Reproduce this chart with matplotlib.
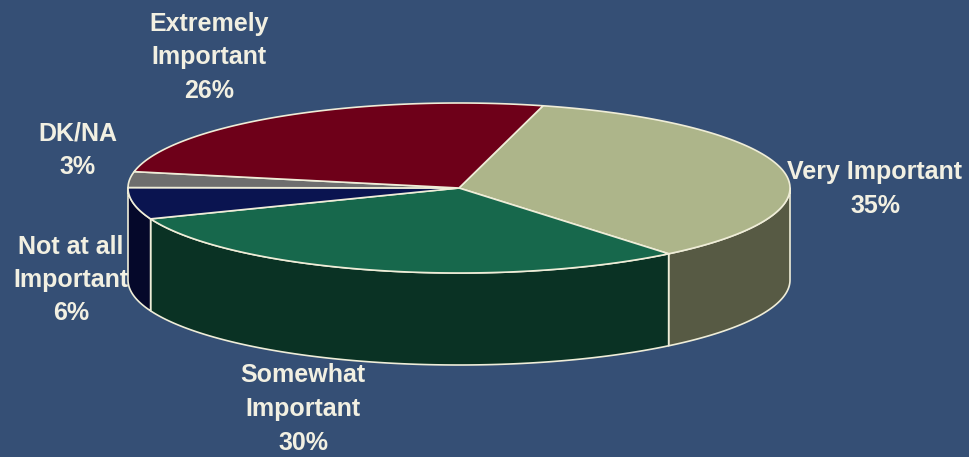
import numpy as np
import matplotlib.pyplot as plt
from matplotlib.patches import Polygon

plt.rcParams['font.family'] = ['Liberation Sans', 'DejaVu Sans']

# survey shares, clockwise from the back-right seam
labels = ['Very Important', 'Somewhat\nImportant', 'Not at all\nImportant', 'DK/NA', 'Extremely\nImportant']
values = [35, 30, 6, 3, 26]
top_colors = ['#adb58a', '#17684c', '#0a1450', '#6e6e6e', '#6e0019']
side_colors = ['#575a44', '#0a3224', '#05082a', '#3e3e3e', '#3d000e']

bg = '#354f75'
edge = '#efedd8'
text_col = '#f2f0e2'

# ellipse geometry in pixel units
cx, cy = 459, 188
rx, ry = 331, 85
depth = 92
start = 75.3

label_xy = [(875, 189), (303, 409), (71, 280), (78, 150), (209, 57)]

fig = plt.figure(figsize=(9.69, 4.57), dpi=100, facecolor=bg)
ax = fig.add_axes([0, 0, 1, 1])
ax.set_facecolor(bg)
ax.set_xlim(0, 969)
ax.set_ylim(457, 0)
ax.axis('off')


def arc(a1, a2, dy=0, n=120):
    t = np.radians(np.linspace(a1, a2, n))
    return np.column_stack([cx + rx * np.cos(t), cy - ry * np.sin(t) + dy])


fracs = np.array(values) / np.sum(values) * 360
bounds = start - np.concatenate([[0], np.cumsum(fracs)])

# side walls (only the front half faces the viewer)
for i in range(len(values)):
    a1, a2 = bounds[i], bounds[i + 1]
    for shift in (0, -360, 360):
        hi = min(a1 + shift, 0)
        lo = max(a2 + shift, -180)
        if lo < hi:
            upper = arc(hi, lo)
            lower = arc(lo, hi, dy=depth)
            ax.add_patch(Polygon(np.vstack([upper, lower]), closed=True,
                                 facecolor=side_colors[i], edgecolor=edge, lw=1.2,
                                 joinstyle='round'))

# top faces
for i in range(len(values)):
    a1, a2 = bounds[i], bounds[i + 1]
    pts = np.vstack([[cx, cy], arc(a1, a2)])
    ax.add_patch(Polygon(pts, closed=True, facecolor=top_colors[i],
                         edgecolor=edge, lw=1.2, joinstyle='round'))

for i, (x, y) in enumerate(label_xy):
    ax.text(x, y, f'{labels[i]}\n{values[i]}%', ha='center', va='center',
            fontsize=18, fontweight='bold', color=text_col, linespacing=1.5)

fig.savefig('out.png', dpi=100, facecolor=bg)
